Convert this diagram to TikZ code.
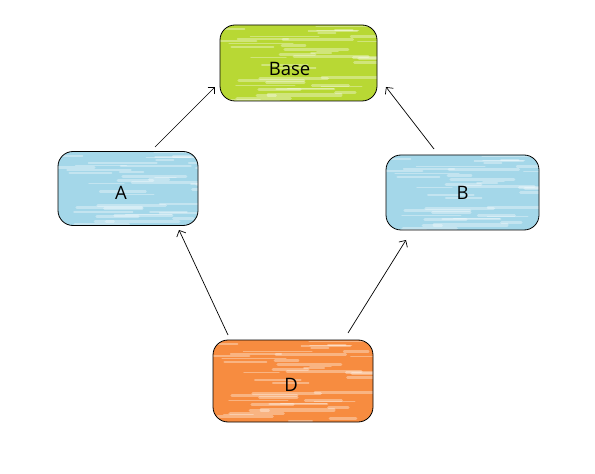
\documentclass[tikz,border=0pt]{standalone}
\usepackage{fontspec}
\setmainfont{Open Sans}
\usetikzlibrary{arrows.meta,calc}
\definecolor{cgreen}{HTML}{B8D834}
\definecolor{cblue}{HTML}{A4D7E9}
\definecolor{corange}{HTML}{F78C40}
\tikzset{
  box/.style={draw=black, line width=0.8bp, rounded corners=15bp, inner sep=0pt,
    font=\fontsize{18.5bp}{20bp}\selectfont,
    path picture={
      \pgfmathsetseed{7}
      \foreach \k in {1,...,45} {
        \pgfmathsetmacro{\xx}{rnd*150}
        \pgfmathsetmacro{\yy}{rnd*84}
        \pgfmathsetmacro{\ll}{15+rnd*60}
        \pgfmathsetmacro{\ww}{1+rnd*2.5}
        \draw[white, opacity=0.35, line width=\ww bp, line cap=round]
          (path picture bounding box.north west) ++(\xx,\yy) -- ++(\ll,0);
      }
    }},
  conn/.style={draw=black, line width=0.7bp, -{Straight Barb[length=5bp,width=10bp]}}
}
\begin{document}
\begin{tikzpicture}[x=1bp,y=-1bp]
\useasboundingbox (0,0) rectangle (595,474);
\node[box, fill=cgreen, minimum width=157bp, minimum height=76bp] (base) at (298.5,63) {\raisebox{-12.6bp}[0pt][0pt]{\makebox[0pt]{\hspace*{-18bp}Base}}};
\node[box, fill=cblue, minimum width=140bp, minimum height=74bp] (A) at (128,188.5) {\raisebox{-11bp}[0pt][0pt]{\makebox[0pt]{\hspace*{-14bp}A}}};
\node[box, fill=cblue, minimum width=153bp, minimum height=75bp] (B) at (462.5,192.5) {\raisebox{-7bp}[0pt][0pt]{\makebox[0pt]{B}}};
\node[box, fill=corange, minimum width=160bp, minimum height=82bp] (D) at (293,381) {\raisebox{-10.6bp}[0pt][0pt]{\makebox[0pt]{\hspace*{-4bp}D}}};
\coordinate (a1) at (155,147);
\coordinate (a2) at (215,87);
\coordinate (b1) at (434,149);
\coordinate (b2) at (386,87);
\coordinate (d1) at (228,335);
\coordinate (d2) at (179,230);
\coordinate (d3) at (348,333);
\coordinate (d4) at (406,240);
\draw[conn] (a1) -- (a2);
\draw[conn] (b1) -- (b2);
\draw[conn] (d1) -- (d2);
\draw[conn] (d3) -- (d4);
\end{tikzpicture}
\end{document}
